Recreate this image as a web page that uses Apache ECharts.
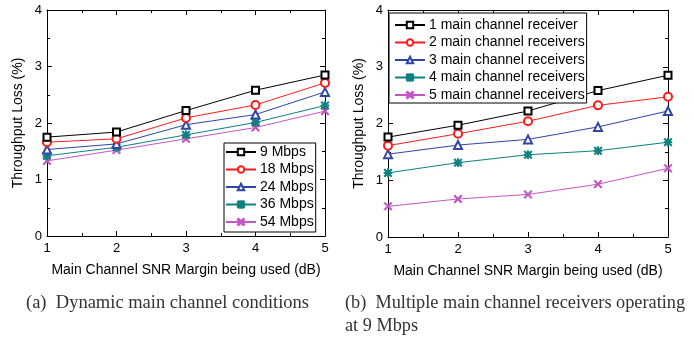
<!DOCTYPE html>
<html><head><meta charset="utf-8">
<script src="https://cdn.jsdelivr.net/npm/echarts@6/dist/echarts.min.js"></script>
<style>html,body{margin:0;padding:0;background:#fff}#c{width:694px;height:341px}</style>
</head><body><div id="c"></div>
<script>
const xValues = [1, 2, 3, 4, 5];
const leftNames = ['9 Mbps', '18 Mbps', '24 Mbps', '36 Mbps', '54 Mbps'];
const left9 = [1.75, 1.84, 2.22, 2.58, 2.85];
const left18 = [1.66, 1.72, 2.09, 2.32, 2.71];
const left24 = [1.53, 1.63, 1.97, 2.15, 2.55];
const left36 = [1.42, 1.57, 1.79, 2.01, 2.31];
const left54 = [1.33, 1.52, 1.72, 1.92, 2.21];
const rightNames = ['1 main channel receiver', '2 main channel receivers', '3 main channel receivers', '4 main channel receivers', '5 main channel receivers'];
const right1 = [1.76, 1.97, 2.22, 2.58, 2.85];
const right2 = [1.61, 1.82, 2.04, 2.32, 2.47];
const right3 = [1.46, 1.62, 1.72, 1.94, 2.22];
const right4 = [1.13, 1.31, 1.45, 1.52, 1.67];
const right5 = [0.54, 0.67, 0.75, 0.93, 1.21];
const yTicks = [0, 1, 2, 3, 4];
const xTitle = 'Main Channel SNR Margin being used (dB)';
const yTitle = 'Throughput Loss (%)';
const captionA = '(a)\u2002Dynamic main channel conditions';
const captionB1 = '(b)\u2002Multiple main channel receivers operating';
const captionB2 = 'at 9 Mbps';

const colors = ['#000000', '#ff1a1a', '#2f45a8', '#0f8080', '#c455c4'];
const X_PATH = 'path://M0,1.2 L1.2,0 L5,3.8 L8.8,0 L10,1.2 L6.2,5 L10,8.8 L8.8,10 L5,6.2 L1.2,10 L0,8.8 L3.8,5 Z';
const AST_PATH = 'path://M0,1.2 L1.2,0 L5,3.8 L8.8,0 L10,1.2 L6.2,5 L10,8.8 L8.8,10 L5,6.2 L1.2,10 L0,8.8 L3.8,5 Z M4.3,0 L5.7,0 L5.7,10 L4.3,10 Z M0,4.3 L10,4.3 L10,5.7 L0,5.7 Z';
const symbols = ['emptyRect', 'emptyCircle', 'emptyTriangle', AST_PATH, X_PATH];
const symSizes = [7, 8, 8, 8, 8];
const FONT = 'Liberation Sans, Arial, sans-serif';
const SERIF = 'Liberation Serif, Times New Roman, serif';

function pairs(arr) { return xValues.map((x, i) => [x, arr[i]]); }

function xAx(gi, pos, show) {
  return {
    type: 'value', gridIndex: gi, position: pos, min: 1, max: 5, interval: 1,
    name: show ? xTitle : '', nameLocation: 'middle', nameGap: 27,
    nameTextStyle: { fontFamily: FONT, fontSize: 14, color: '#000' },
    axisLine: { show: true, onZero: false, lineStyle: { color: '#000', width: 1 } },
    axisTick: { show: true, inside: true, length: 5, lineStyle: { color: '#000' } },
    minorTick: { show: true, splitNumber: 2, length: 3, lineStyle: { color: '#000' } },
    axisLabel: { show: show, fontFamily: FONT, fontSize: 13, color: '#000', margin: 6 },
    splitLine: { show: false }
  };
}
function yAx(gi, pos, show) {
  return {
    type: 'value', gridIndex: gi, position: pos, min: 0, max: 4, interval: 1,
    name: show ? yTitle : '', nameLocation: 'middle', nameGap: 22,
    nameTextStyle: { fontFamily: FONT, fontSize: 14, color: '#000' },
    axisLine: { show: true, onZero: false, lineStyle: { color: '#000', width: 1 } },
    axisTick: { show: true, inside: true, length: 5, lineStyle: { color: '#000' } },
    minorTick: { show: true, splitNumber: 2, length: 3, lineStyle: { color: '#000' } },
    axisLabel: { show: show, fontFamily: FONT, fontSize: 13, color: '#000', margin: 5,
      formatter: v => yTicks.includes(v) ? String(v) : '' },
    splitLine: { show: false }
  };
}
function mk(name, data, i, xi, yi) {
  return {
    name: name, type: 'line', xAxisIndex: xi, yAxisIndex: yi, data: pairs(data),
    symbol: symbols[i], symbolSize: symSizes[i], showSymbol: true,
    lineStyle: { color: colors[i], width: 1 },
    itemStyle: { color: colors[i], borderColor: colors[i], borderWidth: 1 },
    animation: false, z: 10 - i
  };
}
const leftData = [left9, left18, left24, left36, left54];
const rightData = [right1, right2, right3, right4, right5];
const series = [];
leftData.forEach((d, i) => series.push(mk(leftNames[i], d, i, 0, 0)));
rightData.forEach((d, i) => series.push(mk(rightNames[i], d, i, 2, 2)));

const legendCommon = {
  orient: 'vertical', itemWidth: 30, itemHeight: 8, itemGap: 1.5,
  borderColor: '#000', borderWidth: 1, backgroundColor: '#fff', borderRadius: 0,
  textStyle: { fontFamily: FONT, fontSize: 14, color: '#000', padding: [0, 0, 0, -1], lineHeight: 16 },
  selectedMode: false, z: 20
};

const chart = echarts.init(document.getElementById('c'), null, { renderer: 'canvas' });
chart.setOption({
  animation: false,
  backgroundColor: '#fff',
  grid: [
    { left: 47, right: 369, top: 10, bottom: 105, containLabel: false },
    { left: 388, right: 26, top: 10, bottom: 104, containLabel: false }
  ],
  xAxis: [xAx(0, 'bottom', true), xAx(0, 'top', false), xAx(1, 'bottom', true), xAx(1, 'top', false)],
  yAxis: [yAx(0, 'left', true), yAx(0, 'right', false), yAx(1, 'left', true), yAx(1, 'right', false)],
  legend: [
    Object.assign({}, legendCommon, { data: leftNames, left: 224, top: 143, padding: [1, 2, 2, 1] }),
    Object.assign({}, legendCommon, { data: rightNames, left: 389, top: 13, padding: [4, 2, 0, 5] })
  ],
  series: series,
  graphic: [
    { type: 'text', left: 26, top: 294, style: { text: captionA, font: '18.5px ' + SERIF, fill: '#333' } },
    { type: 'text', left: 345, top: 294, style: { text: captionB1, font: '18.3px ' + SERIF, fill: '#333' } },
    { type: 'text', left: 345, top: 317, style: { text: captionB2, font: '18.3px ' + SERIF, fill: '#333' } }
  ]
});
</script></body></html>
